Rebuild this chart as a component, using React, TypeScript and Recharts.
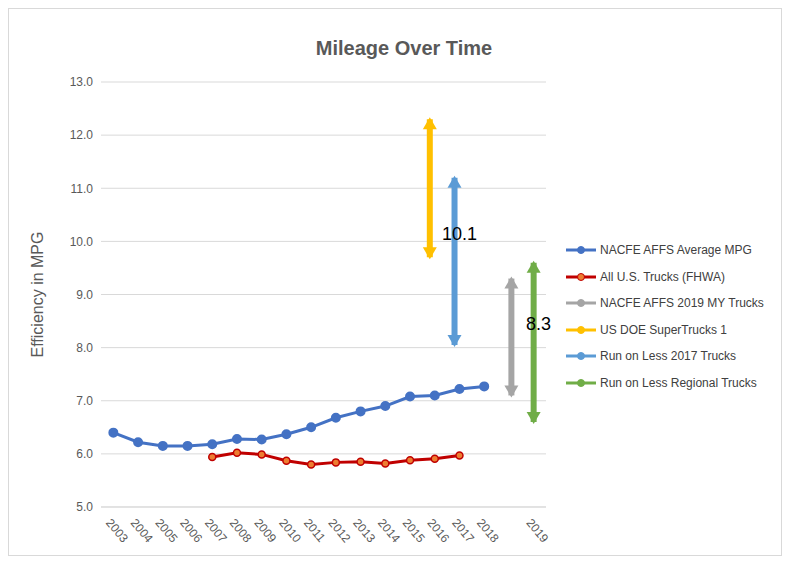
import { ComposedChart, Line, XAxis, YAxis, CartesianGrid, Label, ReferenceDot } from "recharts";

const yearLabels = ["2003", "2004", "2005", "2006", "2007", "2008", "2009", "2010", "2011", "2012", "2013", "2014", "2015", "2016", "2017", "2018", "", "2019"];
const affsMpg = [6.4, 6.22, 6.15, 6.15, 6.18, 6.28, 6.27, 6.37, 6.5, 6.68, 6.8, 6.9, 7.08, 7.1, 7.22, 7.27];
const fhwaMpg = [null, null, null, null, 5.94, 6.02, 5.99, 5.87, 5.8, 5.84, 5.85, 5.82, 5.88, 5.91, 5.97];
const yTicks = [5, 6, 7, 8, 9, 10, 11, 12, 13];

// arrow ranges: category index, low, high
const arrowNames = ["NACFE AFFS 2019 MY Trucks", "US DOE SuperTrucks 1", "Run on Less 2017 Trucks", "Run on Less Regional Trucks"];
const arrowColors = ["#A5A5A5", "#FFC000", "#5B9BD5", "#70AD47"];
const arrowX = [16.1, 12.8, 13.8, 17];
const arrowLow = [7.1, 9.7, 8.05, 6.6];
const arrowHigh = [9.3, 12.3, 11.2, 9.6];
const arrowLabels = ["", "", "10.1", "8.3"];
const arrowLabelY = [0, 0, 10.15, 8.45];

const legendNames = ["NACFE AFFS Average MPG", "All U.S. Trucks (FHWA)", ...arrowNames];
const legendColors = ["#4472C4", "#C00000", ...arrowColors];

const mainData = yearLabels.map((_, i) => ({
  x: i,
  affs: i < affsMpg.length ? affsMpg[i] : null,
  fhwa: i < fhwaMpg.length ? fhwaMpg[i] : null,
}));

const ArrowHead = (props: any) => {
  const { cx, cy, index, stroke } = props;
  if (cx == null || cy == null) return <g />;
  const up = index === 1;
  const d = up
    ? `M${cx - 7},${cy + 10} L${cx},${cy - 2} L${cx + 7},${cy + 10} Z`
    : `M${cx - 7},${cy - 10} L${cx},${cy + 2} L${cx + 7},${cy - 10} Z`;
  return <path d={d} fill={stroke} stroke="none" />;
};

const XTick = (props: any) => {
  const { x, y, payload } = props;
  const t = yearLabels[payload.value] ?? "";
  return (
    <text x={x - 8} y={y + 8} transform={`rotate(50 ${x - 8} ${y + 8})`} fontSize={12} fill="#595959">
      {t}
    </text>
  );
};

export default function App() {
  return (
    <div style={{ width: 774, height: 548, border: "1px solid #d9d9d9", boxSizing: "border-box", position: "relative", fontFamily: "Liberation Sans, Arial, sans-serif" }}>
      <div style={{ position: "absolute", left: 0, width: 790, top: 28, textAlign: "center", fontSize: 20, fontWeight: "bold", color: "#595959" }}>
        Mileage Over Time
      </div>
      <div style={{ position: "absolute", left: 557, top: 228, fontSize: 12, color: "#404040" }}>
        {legendNames.map((n, i) => (
          <div key={n} style={{ height: 26.5, display: "flex", alignItems: "center" }}>
            <svg width={30} height={10} style={{ marginRight: 4 }}>
              <line x1={0} y1={5} x2={30} y2={5} stroke={legendColors[i]} strokeWidth={3} />
              <circle cx={15} cy={5} r={3.5} fill={i === 1 ? "#ED7D31" : legendColors[i]} stroke={legendColors[i]} />
            </svg>
            {n}
          </div>
        ))}
      </div>
      <ComposedChart width={772} height={546} margin={{ top: 73, right: 235, bottom: 0, left: 20 }}>
        <CartesianGrid vertical={false} stroke="#d9d9d9" />
        <XAxis
          dataKey="x"
          type="number"
          domain={[-0.5, 17.5]}
          ticks={yearLabels.map((_, i) => i)}
          tick={<XTick />}
          tickLine={false}
          axisLine={{ stroke: "#d9d9d9" }}
          height={48}
          interval={0}
        />
        <YAxis
          domain={[5, 13]}
          ticks={yTicks}
          tickFormatter={(v: number) => v.toFixed(1)}
          tick={{ fontSize: 12, fill: "#595959" }}
          tickLine={false}
          axisLine={false}
          width={72}
        >
          <Label value="Efficiency in MPG" angle={-90} position="insideLeft" offset={8} style={{ fontSize: 16, fill: "#595959", textAnchor: "middle" }} />
        </YAxis>
        <Line data={mainData} dataKey="affs" stroke="#4472C4" strokeWidth={3} dot={{ r: 3.5, fill: "#4472C4", stroke: "#4472C4" }} isAnimationActive={false} />
        <Line data={mainData} dataKey="fhwa" stroke="#C00000" strokeWidth={3} dot={{ r: 3.5, fill: "#ED7D31", stroke: "#C00000", strokeWidth: 1.5 }} isAnimationActive={false} />
        {arrowNames.map((n, i) => (
          <Line
            key={n}
            data={[{ x: arrowX[i], v: arrowLow[i] }, { x: arrowX[i], v: arrowHigh[i] }]}
            dataKey="v"
            stroke={arrowColors[i]}
            strokeWidth={6}
            dot={<ArrowHead />}
            isAnimationActive={false}
          />
        ))}
        {arrowLabels.map((t, i) =>
          t ? (
            <ReferenceDot
              key={"lbl" + i}
              x={arrowX[i] + 0.2}
              y={arrowLabelY[i]}
              r={0}
              stroke="none"
              fill="none"
              label={{ value: t, position: "center", fontSize: 18, fill: "#000" }}
            />
          ) : null
        )}
      </ComposedChart>
    </div>
  );
}
